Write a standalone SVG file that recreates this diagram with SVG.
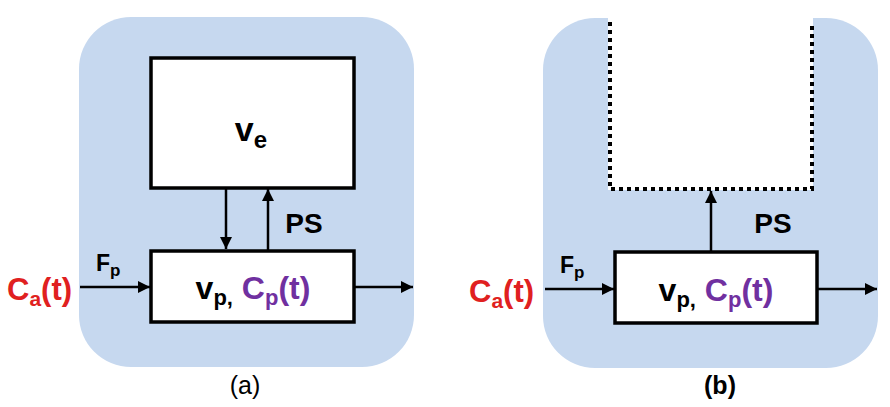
<svg xmlns="http://www.w3.org/2000/svg" width="890" height="407" viewBox="0 0 890 407">
<defs>
<marker id="ah" viewBox="0 0 12 12" refX="12" refY="6" markerWidth="13" markerHeight="12" markerUnits="userSpaceOnUse" orient="auto" style="overflow:visible">
<path d="M0,0 L12,6 L0,12 z" fill="#000"/>
</marker>
<style>
.bg{fill:#c6d8ef}
.box{fill:#fff;stroke:#000;stroke-width:3.5}
.ln{stroke:#000;stroke-width:2.5;fill:none}
.t{font-family:"Liberation Sans",Arial,sans-serif;font-weight:bold;fill:#000}
.red{fill:#e02020}
.pur{fill:#7030a0}
.dot{stroke:#000;stroke-width:4;stroke-dasharray:4,4;fill:none}
</style>
</defs>
<rect width="890" height="407" fill="#fff"/>
<g id="panelA">
<rect class="bg" x="79" y="17" width="335" height="350" rx="52"/>
</g>
<g id="panelB">
<rect class="bg" x="543" y="18" width="335" height="350" rx="52"/>
<rect x="608" y="0" width="205" height="190" fill="#fff"/>
</g>
<g id="connectors">
<line class="ln" x1="226" y1="188" x2="226" y2="249" marker-end="url(#ah)"/>
<line class="ln" x1="268" y1="250" x2="268" y2="189" marker-end="url(#ah)"/>
<line class="ln" x1="80" y1="287" x2="150" y2="287" marker-end="url(#ah)"/>
<line class="ln" x1="354" y1="287" x2="413" y2="287" marker-end="url(#ah)"/>
<line class="ln" x1="711" y1="252" x2="711" y2="191" marker-end="url(#ah)"/>
<line class="ln" x1="545" y1="289" x2="614" y2="289" marker-end="url(#ah)"/>
<line class="ln" x1="817" y1="289" x2="877" y2="289" marker-end="url(#ah)"/>
</g>
<g id="ve">
<rect class="box" x="151" y="58" width="203" height="130"/>
<text class="t" x="251" y="141" font-size="34" text-anchor="middle">v<tspan font-size="24" dy="7">e</tspan></text>
</g>
<g id="vpA">
<rect class="box" x="151" y="251" width="203" height="71"/>
<text class="t" x="253" y="299" font-size="32" text-anchor="middle">v<tspan font-size="22" dy="6">p,</tspan><tspan dy="-6"> </tspan><tspan class="pur">C</tspan><tspan class="pur" font-size="22" dy="6">p</tspan><tspan class="pur" dy="-6">(t)</tspan></text>
</g>
<g id="labelsA">
<text class="t" x="304" y="233" font-size="28" text-anchor="middle">PS</text>
<text class="t" x="96" y="271" font-size="23">F<tspan font-size="17" dy="5">p</tspan></text>
<text class="t red" x="7" y="300" font-size="31">C<tspan font-size="21" dy="6">a</tspan><tspan dy="-6">(t)</tspan></text>
<text x="245" y="394" font-family="Liberation Sans, Arial, sans-serif" font-size="25" text-anchor="middle">(a)</text>
</g>
<g id="psink">
<path class="dot" d="M610,22 L610,189 L812,189 L812,22"/>
</g>
<g id="vpB">
<rect class="box" x="615" y="252" width="202" height="71"/>
<text class="t" x="716" y="301" font-size="32" text-anchor="middle">v<tspan font-size="22" dy="6">p,</tspan><tspan dy="-6"> </tspan><tspan class="pur">C</tspan><tspan class="pur" font-size="22" dy="6">p</tspan><tspan class="pur" dy="-6">(t)</tspan></text>
</g>
<g id="labelsB">
<text class="t" x="773" y="233" font-size="28" text-anchor="middle">PS</text>
<text class="t" x="560" y="273" font-size="23">F<tspan font-size="17" dy="5">p</tspan></text>
<text class="t red" x="469" y="302" font-size="31">C<tspan font-size="21" dy="6">a</tspan><tspan dy="-6">(t)</tspan></text>
<text class="t" x="720" y="394" font-size="25" text-anchor="middle">(b)</text>
</g>
</svg>
